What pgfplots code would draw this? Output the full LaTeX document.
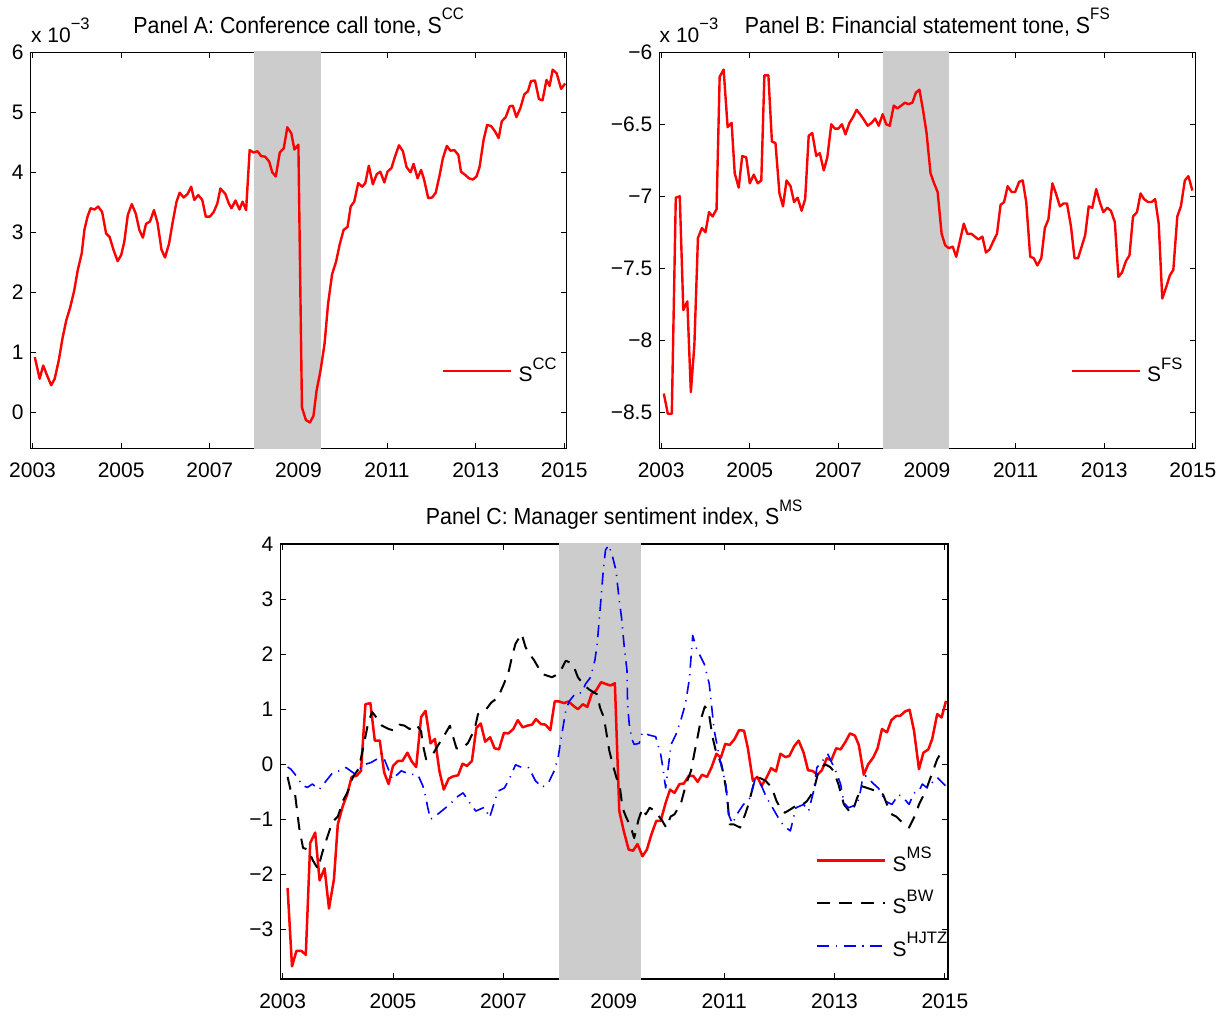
\documentclass[border=0pt]{standalone}
\usepackage{fontspec}
\setmainfont{Liberation Sans}
\newfontfamily\titlefont[FakeStretch=0.92]{Liberation Sans}
\usepackage{pgfplots}
\pgfplotsset{compat=1.18}
\definecolor{recgray}{RGB}{204,204,204}
\newcommand\fs{\fontsize{10.5}{12}\selectfont}
\newcommand\tfs{\titlefont\fontsize{11.6}{13}\selectfont}
\newcommand\sups[1]{\raisebox{0.6em}{\fontsize{8.3}{9}\selectfont #1}}
\pgfplotsset{
  panel/.style={
    scale only axis, clip=false,
    xmin=2002.958, xmax=2015.056,
    xtick={2003,2005,2007,2009,2011,2013,2015},
    xticklabels={2003,2005,2007,2009,2011,2013,2015},
    tick align=inside, major tick length=2.8pt,
    axis line style={line width=0.6pt},
    every tick/.style={black, line width=0.5pt},
    tick label style={font=\fs},
    xticklabel style={yshift=-3.8pt},
    title style={at={(0.5,1)}, anchor=base, yshift=3.5pt, font=\tfs},
    legend style={draw=none, fill=none, font=\fs, inner sep=0pt,
      nodes={inner sep=0pt}, column sep=3pt, row sep=7.8pt},
    legend cell align=left,
    legend image code/.code={\draw[#1] (0pt,0pt) -- (34pt,0pt);},
  }
}
\begin{document}
\begin{tikzpicture}
\useasboundingbox (0,0) rectangle (613pt,508.5pt);
% ---------------- Panel A
\begin{axis}[panel, name=A, at={(15.35pt,284.35pt)}, anchor=south west,
  width=268pt, height=198pt,
  ymin=-0.6, ymax=6, ytick={0,1,2,3,4,5,6}, yticklabels={0,1,2,3,4,5,6},
  title={Panel A: Conference call tone, S\sups{CC}},
  legend style={at={(axis description cs:0.767,0.195)}, anchor=west}]
\addplot[fill=recgray, draw=none, forget plot] coordinates {(2008,-0.615) (2009.5,-0.615) (2009.5,6.015) (2008,6.015)};
\addplot[red, line width=1.2pt, line join=round] table {
2003.05 0.92
2003.16 0.56
2003.24 0.78
2003.33 0.61
2003.42 0.45
2003.50 0.56
2003.59 0.86
2003.68 1.25
2003.76 1.53
2003.85 1.75
2003.94 2.03
2004.02 2.37
2004.11 2.65
2004.17 3.04
2004.24 3.26
2004.31 3.40
2004.40 3.38
2004.48 3.43
2004.57 3.34
2004.66 2.98
2004.74 2.92
2004.83 2.70
2004.92 2.52
2005.00 2.62
2005.07 2.84
2005.15 3.29
2005.24 3.47
2005.33 3.31
2005.41 3.04
2005.49 2.91
2005.56 3.14
2005.65 3.18
2005.74 3.37
2005.82 3.16
2005.91 2.71
2005.99 2.58
2006.08 2.81
2006.17 3.20
2006.25 3.51
2006.32 3.66
2006.41 3.58
2006.50 3.64
2006.58 3.76
2006.65 3.54
2006.74 3.62
2006.83 3.54
2006.91 3.26
2007.00 3.26
2007.09 3.34
2007.17 3.48
2007.24 3.73
2007.35 3.64
2007.43 3.48
2007.49 3.40
2007.58 3.53
2007.67 3.38
2007.74 3.51
2007.82 3.37
2007.90 4.37
2007.99 4.33
2008.08 4.35
2008.16 4.27
2008.25 4.26
2008.34 4.18
2008.41 4.00
2008.49 3.93
2008.58 4.33
2008.67 4.40
2008.75 4.75
2008.84 4.65
2008.91 4.38
2009.00 4.46
2009.08 0.08
2009.17 -0.13
2009.26 -0.17
2009.34 -0.06
2009.41 0.36
2009.50 0.70
2009.59 1.14
2009.67 1.81
2009.76 2.30
2009.85 2.51
2009.93 2.79
2010.02 3.04
2010.11 3.09
2010.18 3.43
2010.26 3.51
2010.35 3.82
2010.44 3.76
2010.51 3.82
2010.59 4.11
2010.68 3.80
2010.77 3.97
2010.85 4.01
2010.94 3.83
2011.01 4.01
2011.10 4.07
2011.18 4.26
2011.27 4.45
2011.36 4.35
2011.44 4.09
2011.53 4.00
2011.60 4.14
2011.69 3.90
2011.77 4.04
2011.84 3.87
2011.93 3.57
2012.02 3.58
2012.10 3.66
2012.19 3.96
2012.26 4.23
2012.35 4.44
2012.43 4.36
2012.52 4.37
2012.61 4.29
2012.67 4.01
2012.76 3.96
2012.85 3.90
2012.94 3.88
2013.02 3.93
2013.09 4.09
2013.18 4.54
2013.26 4.79
2013.35 4.77
2013.44 4.68
2013.52 4.57
2013.59 4.85
2013.68 4.92
2013.77 5.10
2013.84 5.11
2013.92 4.92
2014.01 5.07
2014.10 5.30
2014.18 5.35
2014.25 5.52
2014.34 5.53
2014.43 5.22
2014.51 5.20
2014.60 5.54
2014.67 5.44
2014.74 5.71
2014.83 5.65
2014.93 5.39
2015.02 5.48
};
\addlegendentry{S\sups{CC}}
\end{axis}
\node[anchor=base west, font=\fs, inner sep=0pt] at ([yshift=5pt]A.north west) {x 10\sups{−3}};
% ---------------- Panel B
\begin{axis}[panel, name=B, at={(329.65pt,284.35pt)}, anchor=south west,
  width=268pt, height=198pt,
  ymin=-8.75, ymax=-6, ytick={-8.5,-8,-7.5,-7,-6.5,-6},
  yticklabels={−8.5,−8,−7.5,−7,−6.5,−6},
  title={Panel B: Financial statement tone, S\sups{FS}},
  legend style={at={(axis description cs:0.767,0.195)}, anchor=west}]
\addplot[fill=recgray, draw=none, forget plot] coordinates {(2008,-8.756) (2009.5,-8.756) (2009.5,-5.994) (2008,-5.994)};
\addplot[red, line width=1.2pt, line join=round] table {
2003.06 -8.37
2003.15 -8.51
2003.24 -8.51
2003.33 -7.01
2003.42 -7.00
2003.50 -7.79
2003.59 -7.73
2003.67 -8.36
2003.75 -8.03
2003.83 -7.29
2003.92 -7.22
2004.00 -7.25
2004.08 -7.11
2004.16 -7.14
2004.25 -7.09
2004.32 -6.17
2004.41 -6.12
2004.50 -6.52
2004.59 -6.49
2004.66 -6.84
2004.75 -6.94
2004.83 -6.72
2004.92 -6.73
2005.00 -6.91
2005.09 -6.85
2005.18 -6.91
2005.26 -6.89
2005.33 -6.16
2005.42 -6.16
2005.50 -6.62
2005.58 -6.63
2005.67 -6.98
2005.75 -7.07
2005.83 -6.89
2005.92 -6.93
2006.00 -7.04
2006.08 -7.01
2006.17 -7.10
2006.25 -7.02
2006.33 -6.58
2006.41 -6.56
2006.50 -6.72
2006.58 -6.70
2006.67 -6.82
2006.75 -6.73
2006.84 -6.50
2006.92 -6.53
2007.00 -6.53
2007.08 -6.50
2007.16 -6.57
2007.25 -6.49
2007.33 -6.45
2007.41 -6.40
2007.49 -6.43
2007.58 -6.47
2007.66 -6.51
2007.75 -6.49
2007.83 -6.46
2007.91 -6.51
2008.00 -6.43
2008.08 -6.50
2008.16 -6.51
2008.25 -6.37
2008.33 -6.39
2008.42 -6.37
2008.50 -6.35
2008.58 -6.36
2008.67 -6.35
2008.75 -6.28
2008.83 -6.26
2008.91 -6.40
2008.99 -6.56
2009.08 -6.84
2009.16 -6.91
2009.24 -6.97
2009.33 -7.26
2009.41 -7.34
2009.49 -7.36
2009.58 -7.35
2009.66 -7.42
2009.75 -7.30
2009.83 -7.19
2009.91 -7.26
2010.00 -7.26
2010.08 -7.28
2010.16 -7.30
2010.25 -7.28
2010.33 -7.39
2010.41 -7.37
2010.50 -7.31
2010.58 -7.26
2010.66 -7.06
2010.74 -7.04
2010.82 -6.93
2010.91 -6.97
2010.99 -6.97
2011.08 -6.90
2011.16 -6.89
2011.24 -7.04
2011.33 -7.42
2011.41 -7.43
2011.49 -7.48
2011.58 -7.43
2011.66 -7.22
2011.74 -7.16
2011.83 -6.91
2011.91 -6.98
2012.00 -7.07
2012.08 -7.05
2012.16 -7.05
2012.25 -7.21
2012.33 -7.43
2012.41 -7.43
2012.49 -7.35
2012.57 -7.27
2012.65 -7.07
2012.73 -7.08
2012.82 -6.95
2012.90 -7.04
2012.98 -7.11
2013.07 -7.08
2013.15 -7.10
2013.24 -7.18
2013.32 -7.56
2013.40 -7.53
2013.49 -7.45
2013.57 -7.41
2013.65 -7.14
2013.74 -7.11
2013.82 -6.98
2013.90 -7.02
2013.99 -7.04
2014.07 -7.04
2014.15 -7.02
2014.23 -7.19
2014.31 -7.71
2014.40 -7.63
2014.48 -7.55
2014.56 -7.51
2014.65 -7.14
2014.73 -7.07
2014.82 -6.89
2014.90 -6.86
2014.99 -6.96
};
\addlegendentry{S\sups{FS}}
\end{axis}
\node[anchor=base west, font=\fs, inner sep=0pt] at ([yshift=5pt]B.north west) {x 10\sups{−3}};
% ---------------- Panel C
\begin{axis}[panel, at={(140.15pt,19pt)}, anchor=south west,
  width=333.85pt, height=217.5pt,
  ymin=-3.9, ymax=4, ytick={-3,-2,-1,0,1,2,3,4},
  yticklabels={−3,−2,−1,0,1,2,3,4},
  title={Panel C: Manager sentiment index, S\sups{MS}},
  legend style={at={(axis description cs:0.802,0.174)}, anchor=west}]
\addplot[fill=recgray, draw=none, forget plot] coordinates {(2008,-3.915) (2009.5,-3.915) (2009.5,4.015) (2008,4.015)};
\addplot[red, line width=1.25pt, line join=round] table {
2003.09 -2.25
2003.17 -3.67
2003.25 -3.39
2003.34 -3.39
2003.42 -3.46
2003.50 -1.43
2003.59 -1.24
2003.67 -2.11
2003.76 -1.89
2003.84 -2.62
2003.93 -2.09
2004.00 -1.09
2004.09 -0.76
2004.17 -0.55
2004.25 -0.23
2004.34 -0.21
2004.42 -0.12
2004.50 1.09
2004.59 1.11
2004.67 0.43
2004.76 0.43
2004.84 -0.15
2004.92 -0.36
2005.00 -0.03
2005.09 0.06
2005.17 0.06
2005.26 0.21
2005.34 0.05
2005.42 -0.05
2005.51 0.86
2005.59 0.97
2005.68 0.38
2005.76 0.46
2005.84 -0.12
2005.92 -0.46
2006.01 -0.26
2006.09 -0.22
2006.18 -0.20
2006.26 0.01
2006.34 -0.03
2006.43 0.06
2006.51 0.66
2006.59 0.74
2006.67 0.41
2006.76 0.49
2006.84 0.29
2006.92 0.27
2007.01 0.57
2007.09 0.56
2007.18 0.64
2007.26 0.80
2007.35 0.67
2007.43 0.70
2007.52 0.72
2007.59 0.82
2007.68 0.73
2007.76 0.72
2007.85 0.62
2007.93 1.14
2008.01 1.14
2008.10 1.11
2008.18 1.14
2008.27 1.06
2008.35 1.00
2008.44 1.09
2008.52 1.04
2008.60 1.28
2008.68 1.34
2008.77 1.49
2008.85 1.46
2008.94 1.43
2009.02 1.47
2009.10 -0.85
2009.18 -1.21
2009.27 -1.55
2009.35 -1.57
2009.43 -1.45
2009.52 -1.67
2009.60 -1.55
2009.68 -1.28
2009.77 -1.03
2009.85 -1.03
2009.94 -0.70
2010.02 -0.46
2010.10 -0.52
2010.19 -0.36
2010.27 -0.35
2010.36 -0.21
2010.44 -0.21
2010.52 -0.32
2010.60 -0.19
2010.69 -0.23
2010.77 -0.06
2010.86 0.19
2010.94 0.12
2011.02 0.37
2011.10 0.35
2011.19 0.46
2011.27 0.62
2011.36 0.61
2011.43 0.29
2011.52 -0.30
2011.60 -0.23
2011.68 -0.39
2011.77 -0.24
2011.85 -0.07
2011.94 -0.13
2012.02 0.19
2012.11 0.13
2012.18 0.15
2012.27 0.33
2012.35 0.43
2012.44 0.21
2012.52 -0.11
2012.60 -0.12
2012.69 -0.19
2012.77 -0.11
2012.86 0.11
2012.94 0.07
2013.03 0.29
2013.11 0.27
2013.20 0.41
2013.28 0.56
2013.37 0.52
2013.44 0.35
2013.53 -0.19
2013.61 0.00
2013.70 0.12
2013.78 0.29
2013.86 0.64
2013.95 0.58
2014.03 0.80
2014.12 0.88
2014.19 0.88
2014.28 0.96
2014.36 0.99
2014.44 0.61
2014.53 -0.09
2014.61 0.21
2014.70 0.27
2014.77 0.46
2014.86 0.91
2014.94 0.85
2015.02 1.15
};
\addlegendentry{S\sups{MS}}
\addplot[black, line width=1pt, dash pattern=on 6.5pt off 4.5pt, line join=round] table {
2003.09 -0.23
2003.15 -0.49
2003.22 -0.50
2003.30 -1.15
2003.37 -1.52
2003.46 -1.55
2003.55 -1.75
2003.64 -1.90
2003.72 -1.60
2003.80 -1.35
2003.90 -1.05
2004.00 -0.95
2004.10 -0.65
2004.18 -0.50
2004.28 -0.22
2004.38 -0.08
2004.46 0.30
2004.55 0.75
2004.62 0.95
2004.70 0.85
2004.80 0.70
2004.92 0.64
2005.03 0.61
2005.12 0.72
2005.21 0.70
2005.30 0.64
2005.42 0.72
2005.51 0.60
2005.54 0.36
2005.60 0.09
2005.72 0.18
2005.82 0.35
2005.91 0.49
2006.03 0.70
2006.15 0.29
2006.26 0.29
2006.36 0.39
2006.48 0.64
2006.54 0.91
2006.69 1.00
2006.78 1.12
2006.90 1.21
2007.01 1.46
2007.10 1.70
2007.16 1.97
2007.22 2.19
2007.33 2.37
2007.40 2.13
2007.47 2.00
2007.55 1.90
2007.70 1.64
2007.88 1.58
2007.96 1.62
2008.04 1.70
2008.13 1.88
2008.20 1.85
2008.27 1.79
2008.35 1.58
2008.45 1.45
2008.55 1.36
2008.63 1.31
2008.70 1.27
2008.75 1.03
2008.82 0.85
2008.87 0.55
2008.92 0.24
2008.98 0.00
2009.05 -0.25
2009.10 -0.33
2009.16 -0.80
2009.22 -0.95
2009.31 -1.15
2009.37 -1.34
2009.45 -1.00
2009.52 -0.80
2009.58 -0.91
2009.65 -0.79
2009.75 -0.85
2009.88 -1.03
2009.95 -1.15
2010.03 -0.95
2010.10 -0.91
2010.22 -0.70
2010.31 -0.36
2010.40 -0.12
2010.46 0.20
2010.52 0.50
2010.58 0.82
2010.65 1.05
2010.72 0.95
2010.79 0.49
2010.85 0.24
2010.95 0.00
2011.00 -0.24
2011.05 -0.55
2011.10 -1.09
2011.17 -1.09
2011.29 -1.15
2011.38 -0.91
2011.44 -0.73
2011.55 -0.30
2011.65 -0.25
2011.75 -0.30
2011.86 -0.42
2011.95 -0.67
2012.05 -0.85
2012.10 -0.88
2012.20 -0.82
2012.29 -0.76
2012.40 -0.75
2012.50 -0.67
2012.62 -0.49
2012.71 -0.12
2012.83 0.00
2012.92 -0.05
2012.98 -0.12
2013.07 -0.36
2013.17 -0.73
2013.29 -0.88
2013.35 -0.79
2013.41 -0.61
2013.50 -0.40
2013.65 -0.45
2013.80 -0.50
2013.88 -0.55
2013.95 -0.73
2014.04 -0.91
2014.12 -0.95
2014.20 -1.03
2014.35 -1.15
2014.47 -0.91
2014.53 -0.73
2014.65 -0.49
2014.74 -0.24
2014.86 0.09
2014.95 0.24
};
\addlegendentry{S\sups{BW}}
\addplot[blue, line width=0.8pt, dash pattern=on 6pt off 3.3pt on 0.6pt off 3.3pt, line join=round] table {
2003.09 -0.05
2003.15 -0.09
2003.27 -0.24
2003.36 -0.39
2003.45 -0.42
2003.54 -0.36
2003.66 -0.46
2003.79 -0.30
2003.91 -0.15
2004.03 -0.12
2004.15 -0.06
2004.30 -0.17
2004.42 -0.06
2004.50 0.00
2004.60 0.03
2004.72 0.10
2004.80 0.20
2004.90 -0.05
2004.99 -0.27
2005.15 -0.12
2005.30 -0.18
2005.45 -0.19
2005.54 -0.39
2005.59 -0.58
2005.63 -0.79
2005.68 -1.00
2005.77 -0.94
2005.88 -0.85
2006.03 -0.73
2006.15 -0.60
2006.27 -0.52
2006.39 -0.70
2006.50 -0.85
2006.66 -0.78
2006.75 -0.97
2006.90 -0.49
2007.02 -0.43
2007.12 -0.24
2007.22 -0.01
2007.34 -0.06
2007.46 -0.06
2007.58 -0.30
2007.70 -0.42
2007.82 -0.33
2007.92 -0.12
2007.99 0.11
2008.04 0.43
2008.13 0.97
2008.19 1.14
2008.30 1.28
2008.42 1.30
2008.49 1.46
2008.58 1.58
2008.66 1.90
2008.70 2.19
2008.76 2.90
2008.81 3.52
2008.85 3.89
2008.91 3.98
2008.98 3.76
2009.04 3.52
2009.10 2.97
2009.14 2.67
2009.19 2.13
2009.24 1.70
2009.25 1.09
2009.28 0.73
2009.33 0.45
2009.37 0.36
2009.46 0.38
2009.52 0.58
2009.64 0.53
2009.76 0.50
2009.85 0.18
2009.88 0.00
2009.94 -0.43
2010.04 0.36
2010.13 0.55
2010.22 0.82
2010.30 1.10
2010.37 1.55
2010.43 2.34
2010.50 2.10
2010.58 1.94
2010.64 1.82
2010.73 1.46
2010.82 0.61
2010.87 0.36
2010.94 0.00
2011.03 -0.36
2011.08 -0.91
2011.15 -1.08
2011.23 -0.91
2011.35 -0.73
2011.47 -0.61
2011.58 -0.20
2011.68 -0.40
2011.77 -0.61
2011.86 -0.76
2011.98 -0.97
2012.08 -1.12
2012.20 -1.21
2012.30 -0.79
2012.44 -0.73
2012.53 -0.85
2012.62 -0.49
2012.68 -0.06
2012.74 0.01
2012.88 0.18
2013.02 -0.12
2013.11 -0.36
2013.17 -0.70
2013.25 -0.79
2013.41 -0.73
2013.47 -0.49
2013.50 -0.30
2013.56 -0.21
2013.68 -0.33
2013.80 -0.44
2013.92 -0.67
2014.04 -0.73
2014.16 -0.55
2014.25 -0.61
2014.35 -0.73
2014.44 -0.52
2014.53 -0.49
2014.59 -0.36
2014.68 -0.43
2014.77 -0.33
2014.86 -0.24
2015.01 -0.39
};
\addlegendentry{S\sups{HJTZ}}
\end{axis}
\end{tikzpicture}
\end{document}
